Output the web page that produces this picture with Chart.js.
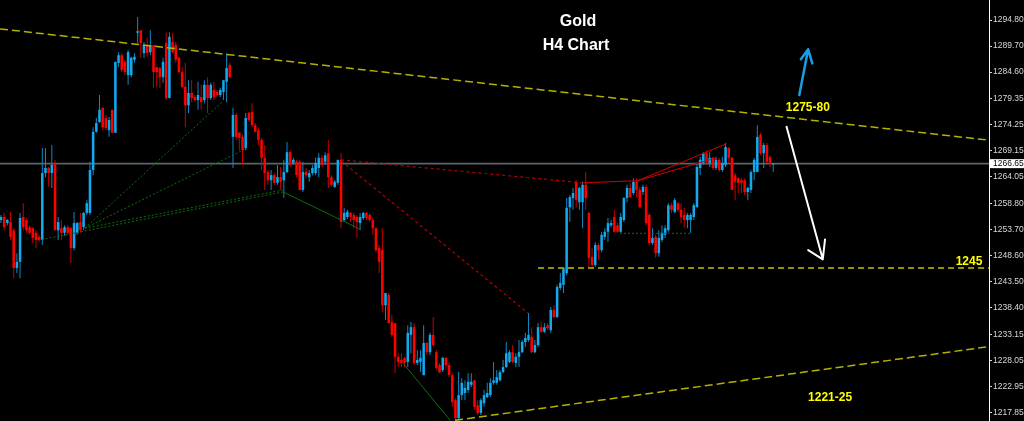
<!DOCTYPE html>
<html><head><meta charset="utf-8">
<script src="https://cdn.jsdelivr.net/npm/chart.js@4.4.0/dist/chart.umd.min.js"></script>
<style>html,body{margin:0;padding:0;background:#000;overflow:hidden}canvas{display:block}</style>
</head><body>
<canvas id="c" width="1024" height="421"></canvas>
<script>
// ---- Gold H4 candles (bar index 0..243) ----
const opens = [1255.6,1256.2,1255.0,1255.2,1253.6,1246.2,1247.4,1256.2,1255.6,1254.2,1254.0,1253.1,1252.3,1251.7,1264.8,1265.8,1264.8,1266.8,1253.6,1254.0,
1253.1,1254.2,1254.0,1250.1,1253.1,1255.2,1254.2,1257.0,1257.0,1265.4,1272.9,1274.8,1277.6,1275.6,1273.2,1277.2,1272.7,1286.4,1287.9,1286.6,
1284.0,1284.0,1287.0,1292.3,1292.8,1288.3,1289.9,1288.5,1289.9,1285.6,1285.4,1283.6,1290.3,1279.5,1290.5,1289.9,1287.4,1284.6,1281.7,1278.1,
1280.5,1279.7,1279.1,1279.7,1279.1,1282.1,1279.5,1281.1,1280.7,1280.1,1280.7,1282.7,1286.0,1271.9,1276.2,1272.7,1271.9,1269.7,1276.6,1276.8,
1274.2,1273.2,1271.3,1267.8,1265.0,1263.4,1264.4,1262.9,1264.0,1263.4,1265.0,1268.9,1266.8,1267.0,1267.0,1261.5,1265.0,1264.0,1264.8,1264.8,
1265.8,1267.8,1267.0,1268.7,1264.0,1262.1,1262.9,1267.4,1255.6,1256.2,1257.0,1256.6,1256.2,1255.0,1256.0,1257.0,1256.6,1255.6,1254.0,1250.1,
1249.7,1238.9,1240.9,1235.6,1235.4,1228.8,1228.2,1228.6,1227.8,1233.1,1234.6,1227.6,1227.8,1225.2,1231.5,1229.7,1233.1,1229.7,1227.2,1226.2,
1228.6,1227.2,1225.2,1220.3,1216.8,1221.3,1221.7,1222.3,1223.3,1224.2,1219.3,1217.8,1219.7,1220.9,1221.3,1223.7,1223.7,1224.2,1225.8,1226.8,
1227.8,1229.7,1227.6,1228.8,1229.7,1231.7,1232.1,1232.7,1229.7,1231.1,1234.6,1233.7,1235.0,1234.0,1238.0,1236.6,1242.3,1242.9,1245.2,1258.1,
1259.9,1263.1,1259.1,1259.1,1262.5,1257.0,1248.4,1246.8,1250.7,1249.7,1252.3,1253.3,1254.6,1256.2,1254.6,1253.3,1255.6,1259.9,1261.9,1260.9,
1263.1,1261.5,1261.1,1262.1,1256.6,1251.1,1252.3,1249.1,1251.7,1252.7,1253.6,1258.5,1257.2,1258.9,1257.6,1256.6,1255.6,1255.6,1256.2,1258.1,
1265.8,1266.8,1268.7,1266.8,1267.8,1265.8,1267.4,1265.4,1266.4,1269.7,1267.8,1264.4,1263.8,1263.4,1263.4,1261.1,1261.5,1265.0,1265.0,1272.3,
1268.7,1270.3,1267.9,1266.5];
const highs = [1256.6,1257.0,1255.8,1257.2,1254.0,1249.1,1257.0,1258.9,1256.0,1254.6,1254.2,1253.6,1252.7,1269.7,1269.7,1266.0,1270.3,1267.4,1256.2,1255.6,
1254.6,1254.6,1254.2,1257.2,1255.2,1257.0,1257.2,1259.5,1267.0,1273.8,1275.6,1280.1,1277.7,1276.2,1275.8,1277.2,1286.6,1288.5,1288.3,1287.0,
1288.9,1287.6,1288.3,1295.4,1292.8,1290.5,1291.3,1292.8,1289.9,1285.6,1285.6,1287.4,1292.3,1292.4,1292.3,1290.5,1287.6,1285.6,1286.4,1283.0,
1283.0,1280.1,1282.7,1282.1,1283.0,1283.6,1282.5,1282.7,1281.1,1281.5,1283.0,1288.3,1286.4,1277.6,1276.6,1272.9,1272.3,1276.6,1276.8,1278.5,
1274.6,1273.8,1271.7,1270.3,1265.4,1265.4,1264.8,1266.4,1266.0,1267.4,1270.9,1269.3,1267.8,1267.4,1267.4,1267.0,1265.8,1265.4,1266.4,1267.8,
1268.7,1268.3,1268.9,1271.3,1264.4,1263.4,1267.4,1268.7,1258.0,1257.6,1257.2,1257.0,1256.6,1257.0,1257.2,1257.2,1257.0,1256.0,1254.2,1250.7,
1254.0,1241.3,1241.3,1237.0,1235.4,1229.5,1229.5,1228.8,1235.0,1235.6,1235.4,1230.1,1230.1,1235.0,1231.7,1233.5,1236.6,1230.1,1227.6,1228.8,
1228.8,1227.8,1225.6,1220.7,1225.8,1224.6,1224.2,1225.6,1225.6,1224.2,1220.3,1220.7,1222.3,1223.7,1224.6,1227.8,1226.2,1226.2,1228.2,1231.7,
1230.1,1231.1,1229.5,1232.1,1232.1,1233.5,1237.4,1234.6,1232.1,1235.4,1235.6,1235.4,1235.4,1238.6,1238.9,1242.9,1245.2,1246.2,1259.9,1260.5,
1261.9,1263.4,1262.1,1263.1,1265.0,1257.2,1250.1,1251.3,1251.1,1253.3,1254.0,1256.0,1255.6,1257.6,1255.0,1257.0,1260.1,1262.5,1262.9,1263.8,
1263.8,1262.1,1262.5,1262.5,1257.0,1254.0,1252.7,1253.6,1254.6,1254.6,1258.9,1258.9,1259.9,1259.1,1258.9,1258.0,1257.0,1257.0,1258.9,1266.8,
1268.0,1268.9,1269.3,1268.9,1268.0,1268.0,1267.8,1268.0,1270.7,1269.9,1268.0,1264.8,1264.0,1263.8,1263.8,1262.1,1265.4,1267.8,1274.2,1272.7,
1270.7,1270.7,1268.3,1266.8];
const lows = [1255.0,1253.6,1254.6,1251.7,1244.2,1245.2,1244.2,1253.6,1253.1,1252.7,1251.1,1250.1,1251.3,1250.7,1264.0,1262.1,1261.9,1253.6,1251.7,1251.7,
1252.5,1252.7,1247.2,1249.7,1252.7,1253.1,1253.6,1256.6,1256.6,1264.4,1272.7,1274.6,1273.2,1273.2,1271.9,1272.7,1272.7,1285.6,1284.6,1284.0,
1282.1,1283.6,1286.4,1290.3,1287.4,1287.4,1287.6,1287.9,1281.5,1281.7,1281.5,1282.5,1279.1,1279.5,1288.3,1286.4,1284.4,1281.5,1273.8,1276.6,
1278.7,1278.9,1277.2,1277.2,1278.5,1276.6,1279.1,1279.1,1279.7,1279.7,1279.1,1278.7,1283.4,1265.8,1271.3,1269.3,1266.4,1269.3,1274.8,1273.8,
1272.9,1270.3,1265.4,1261.5,1262.5,1261.5,1262.5,1262.5,1261.5,1259.9,1264.8,1266.0,1266.4,1264.0,1261.5,1261.1,1263.8,1263.1,1264.4,1264.4,
1264.0,1266.0,1266.4,1261.9,1262.1,1261.9,1262.5,1254.0,1255.2,1255.8,1255.2,1254.0,1252.1,1253.6,1255.6,1255.6,1255.2,1252.7,1249.3,1245.2,
1237.6,1236.0,1235.4,1232.7,1225.6,1226.8,1226.8,1226.8,1226.8,1229.5,1227.2,1227.2,1225.8,1225.2,1229.1,1229.1,1230.7,1226.2,1225.6,1225.8,
1226.4,1224.8,1219.0,1216.4,1216.4,1220.3,1220.3,1221.7,1222.9,1218.4,1217.4,1217.4,1219.0,1220.7,1220.9,1223.3,1223.3,1223.9,1225.6,1226.6,
1227.6,1227.6,1226.8,1226.8,1229.5,1230.7,1231.7,1229.5,1229.5,1230.7,1233.5,1233.5,1234.0,1233.5,1236.4,1236.4,1241.9,1241.3,1244.8,1255.2,
1257.6,1258.0,1257.6,1254.0,1257.6,1246.4,1246.4,1246.4,1247.8,1249.3,1251.7,1251.3,1254.2,1253.1,1253.1,1253.1,1255.2,1259.1,1259.9,1260.5,
1260.1,1258.0,1260.5,1254.6,1250.7,1250.7,1248.2,1248.4,1251.3,1252.1,1253.3,1257.0,1257.0,1257.2,1255.0,1254.2,1254.0,1253.1,1255.6,1258.1,
1264.4,1266.4,1266.8,1266.0,1265.4,1265.4,1265.0,1265.0,1266.0,1266.8,1261.5,1259.5,1260.9,1260.9,1260.5,1259.5,1260.9,1263.4,1265.0,1268.3,
1265.8,1266.8,1266.0,1265.0];
const closes = [1256.2,1254.2,1255.6,1252.3,1246.2,1247.4,1256.0,1254.2,1253.6,1253.1,1252.1,1251.7,1251.7,1264.8,1265.8,1264.8,1266.4,1253.6,1255.2,1253.1,
1254.2,1253.1,1250.1,1255.0,1255.0,1253.6,1257.0,1258.9,1265.4,1272.9,1274.6,1277.2,1273.8,1273.6,1275.2,1272.7,1286.6,1287.9,1285.0,1284.6,
1288.5,1287.4,1287.6,1292.6,1290.3,1289.9,1288.3,1289.9,1284.6,1284.6,1283.6,1286.6,1279.5,1291.5,1288.5,1287.0,1284.6,1281.7,1278.1,1280.5,
1279.5,1279.1,1280.1,1278.7,1282.1,1279.5,1282.1,1279.7,1280.1,1281.1,1283.0,1285.4,1283.6,1276.2,1271.9,1271.7,1269.3,1275.6,1275.2,1274.2,
1272.9,1271.3,1267.8,1264.8,1263.4,1264.4,1262.9,1264.0,1263.1,1265.0,1268.9,1266.4,1267.4,1264.4,1261.5,1265.0,1264.4,1264.8,1265.8,1266.8,
1267.8,1266.4,1268.3,1264.0,1262.5,1263.1,1267.4,1255.2,1257.0,1257.2,1256.2,1255.6,1255.2,1256.2,1257.0,1256.0,1255.6,1254.0,1249.7,1247.4,
1238.9,1241.3,1235.4,1233.1,1228.8,1227.8,1227.6,1227.6,1233.5,1234.6,1227.6,1228.2,1228.6,1231.5,1229.7,1233.1,1231.1,1226.6,1225.8,1228.6,
1227.2,1225.2,1219.9,1216.8,1221.3,1223.7,1222.7,1223.9,1223.9,1219.0,1217.8,1220.3,1221.3,1221.7,1223.7,1224.2,1224.8,1225.8,1226.8,1229.5,
1229.7,1227.8,1228.8,1229.7,1231.7,1232.5,1233.1,1229.7,1231.1,1234.6,1233.7,1234.6,1234.4,1238.0,1236.6,1242.5,1243.3,1246.2,1258.0,1260.1,
1260.9,1259.5,1261.9,1262.5,1259.9,1248.2,1246.8,1250.7,1249.7,1252.7,1253.3,1255.0,1255.0,1253.3,1253.3,1256.2,1259.9,1261.9,1260.1,1263.1,
1261.5,1258.1,1262.1,1255.0,1251.1,1252.1,1249.1,1252.1,1253.1,1254.0,1258.5,1257.6,1259.5,1257.6,1256.2,1255.6,1256.6,1256.6,1258.5,1266.0,
1267.4,1268.7,1267.0,1267.8,1265.8,1267.4,1265.4,1266.8,1269.9,1267.8,1261.5,1263.1,1262.9,1262.9,1261.1,1261.9,1265.0,1267.4,1271.9,1268.7,
1270.3,1267.0,1266.8,1266.65];
const yTicks = [1294.80,1289.70,1284.60,1279.35,1274.25,1269.15,1264.05,1258.80,1253.70,1248.60,1243.50,1238.40,1233.15,1228.05,1222.95,1217.85];
const lastPrice = 1266.65;
const yMin = 1216.22, yMax = 1298.72;
const xMin = -0.31, xMax = 310.9;

// drawn objects, in data coordinates [bar index, price]
const upperTrend = [[-0.31,1293.06],[310.9,1271.25]];
const lowerTrend = [[142.9,1216.36],[310.9,1230.8]];
const level1245 = [[169,1246.2],[310.9,1246.2]];
const bidLine = [[-0.31,lastPrice],[310.9,lastPrice]];
const greenDotted = [
  [[26.4,1254.0],[69.5,1278.7]],
  [[26.4,1254.0],[77.4,1269.7]],
  [[12.8,1251.8],[88.7,1261.1]],
  [[26.4,1254.0],[88.7,1261.5]],
  [[194.8,1253.0],[216.8,1253.0]]
];
const greenSolid = [
  [[88.8,1261.1],[113.0,1253.8]],
  [[126.6,1227.5],[141.3,1216.4]]
];
const redDotted = [
  [[107.0,1267.4],[182.8,1262.9]],
  [[107.0,1267.2],[165.8,1237.4]]
];
const redSolid = [
  [[183.0,1262.9],[200.3,1263.3],[228.1,1270.5]],
  [[200.3,1263.3],[225.2,1267.8]]
];
const blueArrow = [[251.2,1280.1],[254.0,1289.06],[251.7,1287.1],[254.0,1289.06],[255.3,1286.3]];
const whiteArrow = [[247.2,1273.9],[258.6,1247.9],[254.0,1249.7],[258.6,1247.9],[259.3,1251.8]];
const levelLabels = [
  {text:'1275-80', x:253.9, y:1277.7},
  {text:'1245', x:304.6, y:1247.5},
  {text:'1221-25', x:260.9, y:1220.8}
];

const BULL = '#12A9EE', BEAR = '#FF0000', BULL_W = '#1188C4', BEAR_W = '#C80000';
const isBull = opens.map((o,i)=>closes[i] >= o);

function seg(points, color, width, dash, order){
  return {type:'line', data: points.map(p=>({x:p[0], y:p[1]})), borderColor: color, borderWidth: width,
    borderDash: dash || [], pointRadius: 0, fill: false, tension: 0, order: order ?? 0,
    borderJoinStyle:'round', borderCapStyle: dash ? 'butt' : 'round'};
}

const datasets = [
  seg(bidLine, '#5A646E', 1.6, null, 5),
  {type:'bar', order: 3, grouped: false, barThickness: 1, inflateAmount: 0,
   data: lows.map((l,i)=>({x:i, y:[l, highs[i]]})),
   backgroundColor: isBull.map(b=>b?BULL_W:BEAR_W), borderWidth: 0},
  {type:'bar', order: 2, grouped: false, categoryPercentage: 1, barPercentage: 0.8, minBarLength: 1, inflateAmount: 0,
   data: opens.map((o,i)=>({x:i, y:[o, closes[i]]})),
   backgroundColor: isBull.map(b=>b?BULL:BEAR), borderWidth: 0},
  seg(upperTrend, '#B2B200', 1.5, [8,4]),
  seg(lowerTrend, '#B2B200', 1.5, [8,4]),
  seg(level1245, '#929200', 1.8, [6,4]),
  ...greenDotted.map(p=>seg(p, '#0C700C', 1, [2,2])),
  ...greenSolid.map(p=>seg(p, '#0E6E0E', 1)),
  ...redDotted.map(p=>seg(p, '#B40000', 1.2, [3,3])),
  ...redSolid.map(p=>seg(p, '#D00000', 1)),
  seg(blueArrow, '#1A9DE2', 2.5),
  seg(whiteArrow, '#FFFFFF', 2)
];

const AXIS_FONT = '"Liberation Sans", Arial, sans-serif';

const textPlugin = {
  id: 'texts',
  afterDatasetsDraw(chart){
    const {ctx, scales:{x, y}} = chart;
    ctx.save();
    ctx.textAlign = 'center'; ctx.textBaseline = 'middle';
    ctx.fillStyle = '#FFFFFF';
    ctx.font = 'bold 16px "Liberation Sans", Arial, sans-serif';
    ctx.fillText('Gold', 578, 22);
    ctx.fillText('H4 Chart', 576, 45.5);
    ctx.fillStyle = '#FFFF00';
    ctx.font = 'bold 12px "Liberation Sans", Arial, sans-serif';
    for (const t of levelLabels) ctx.fillText(t.text, x.getPixelForValue(t.x), y.getPixelForValue(t.y));
    ctx.restore();
  },
  afterDraw(chart){
    const {ctx, chartArea, scales:{y}} = chart;
    const py = y.getPixelForValue(lastPrice);
    ctx.save();
    ctx.fillStyle = '#FFFFFF';
    ctx.fillRect(chartArea.right + 1, py - 4.5, 34, 9);
    ctx.fillStyle = '#000000';
    ctx.font = '8.5px ' + AXIS_FONT;
    ctx.textAlign = 'left'; ctx.textBaseline = 'middle';
    ctx.fillText(lastPrice.toFixed(2), chartArea.right + 4, py + 0.5);
    ctx.restore();
  }
};

new Chart(document.getElementById('c'), {
  type: 'bar',
  data: { datasets },
  plugins: [textPlugin],
  options: {
    responsive: false, animation: false, devicePixelRatio: 1,
    layout: { padding: 0 },
    plugins: { legend: {display:false}, tooltip: {enabled:false} },
    scales: {
      x: { type:'linear', min:xMin, max:xMax, display:false, offset:false },
      y: { position:'right', min:yMin, max:yMax,
        afterBuildTicks: s => { s.ticks = yTicks.map(v=>({value:v})); },
        afterFit: s => { s.width = 35; s.paddingTop = 0; s.paddingBottom = 0; },
        ticks: { color:'#D8D8D8', autoSkip:false, padding:1,
          font:{ size:8.5, family: AXIS_FONT },
          callback: v => Number(v).toFixed(2) },
        grid: { display:true, drawOnChartArea:false, drawTicks:true, tickLength:3, color:'#D8D8D8' },
        border: { display:true, color:'#FFFFFF', width:1 }
      }
    }
  }
});
</script>
</body></html>
